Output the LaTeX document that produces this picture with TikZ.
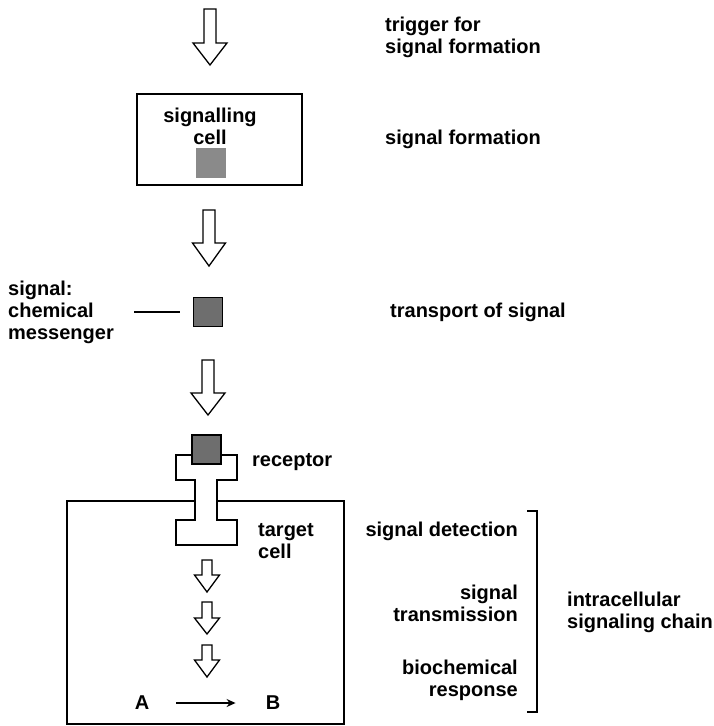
\documentclass[tikz,border=0pt]{standalone}
\usepackage{fontspec}
\setmainfont{Liberation Sans}
\usepackage{tikz}
\usepackage{xcolor}
\usetikzlibrary{arrows.meta,positioning}
\definecolor{srcgray}{HTML}{8a8a8a}
\definecolor{msggray}{HTML}{6e6e6e}

% hollow block arrow pointing down: x, top, head base, tip, shaft width, head width
\newcommand{\hollowdown}[6]{%
  \draw[blockarrow] (#1-#5/2,#2) -- (#1+#5/2,#2) -- (#1+#5/2,#3) -- (#1+#6/2,#3)
    -- (#1,#4) -- (#1-#6/2,#3) -- (#1-#5/2,#3) -- cycle;}

\begin{document}
\begin{tikzpicture}[x=1pt,y=-1pt,
  lbl/.style={font=\fontsize{20}{22}\selectfont\bfseries,inner sep=0pt},
  blockarrow/.style={draw=black,fill=white,line width=1.3pt,line join=miter},
  sigsq/.style={draw=srcgray,fill=srcgray,line width=1pt,minimum size=29pt,inner sep=0pt},
  msgsq/.style={draw=black,fill=msggray,line width=1.5pt,minimum size=29pt,inner sep=0pt}]
\useasboundingbox (0,0) rectangle (714,726);

% signalling cell
\hollowdown{210}{9}{43}{65}{12}{34}
\node[draw,line width=2pt,minimum width=165pt,minimum height=91pt,inner sep=0pt] (scell) at (219.5,139.5) {};
\node[lbl,align=center] (scelltxt) at (210,126) {signalling\\cell};
\node[sigsq] (src) at (210.5,163) {};
\node[lbl,align=left,anchor=west] (trig) at (385,37) {trigger for\\signal formation};
\node[lbl,anchor=west] (form) at (385,139) {signal formation};

% messenger
\hollowdown{209}{210}{243}{266}{12}{33}
\node[msgsq] (msg) at (208,312) {};
\node[lbl,align=left,anchor=west] (msgtxt) at (8,312) {signal:\\chemical\\messenger};
\draw[line width=1.3pt,shorten <=20pt,shorten >=13pt] (msgtxt.east) -- (msg.west);
\node[lbl,anchor=west] (trans) at (390,312) {transport of signal};

% receptor and target cell
\hollowdown{208}{360}{393}{415}{12}{34}
\draw[line width=1.8pt] (195,501) -- (67,501) -- (67,724) -- (344,724) -- (344,501) -- (217,501);
\draw[blockarrow,line width=1.6pt] (176,455) -- (237,455) -- (237,480) -- (217,480) -- (217,520)
  -- (237,520) -- (237,545) -- (176,545) -- (176,520) -- (195,520) -- (195,480) -- (176,480) -- cycle;
\node[msgsq] (bound) at (206.5,449.5) {};
\node[lbl,anchor=west] (rec) at (252,462) {receptor};
\node[lbl,align=left,anchor=west] (tcell) at (258,541) {target\\cell};

% intracellular chain
\hollowdown{207}{560}{575}{592}{10}{25}
\hollowdown{207}{602}{618}{634}{10}{25}
\hollowdown{207}{645}{660}{677}{10}{25}
\node[lbl] (A) at (142,703) {A};
\node[lbl] (B) at (273,703) {B};
\draw[-{Stealth[length=9pt,width=8pt]},line width=1.3pt,shorten <=27pt,shorten >=30pt] (A.east) -- (B.west);

\node[lbl,anchor=east] (detect) at (518,531) {signal detection};
\node[lbl,align=right,anchor=east] (transm) at (518,603) {signal\\transmission};
\node[lbl,align=right,anchor=east] (resp) at (518,680) {biochemical\\response};
\draw[line width=1.8pt] (527,511) -- (537,511) -- (537,712) -- (527,712);
\node[lbl,align=left,anchor=west] (chain) at (567,612) {intracellular\\signaling chain};
\end{tikzpicture}
\end{document}
